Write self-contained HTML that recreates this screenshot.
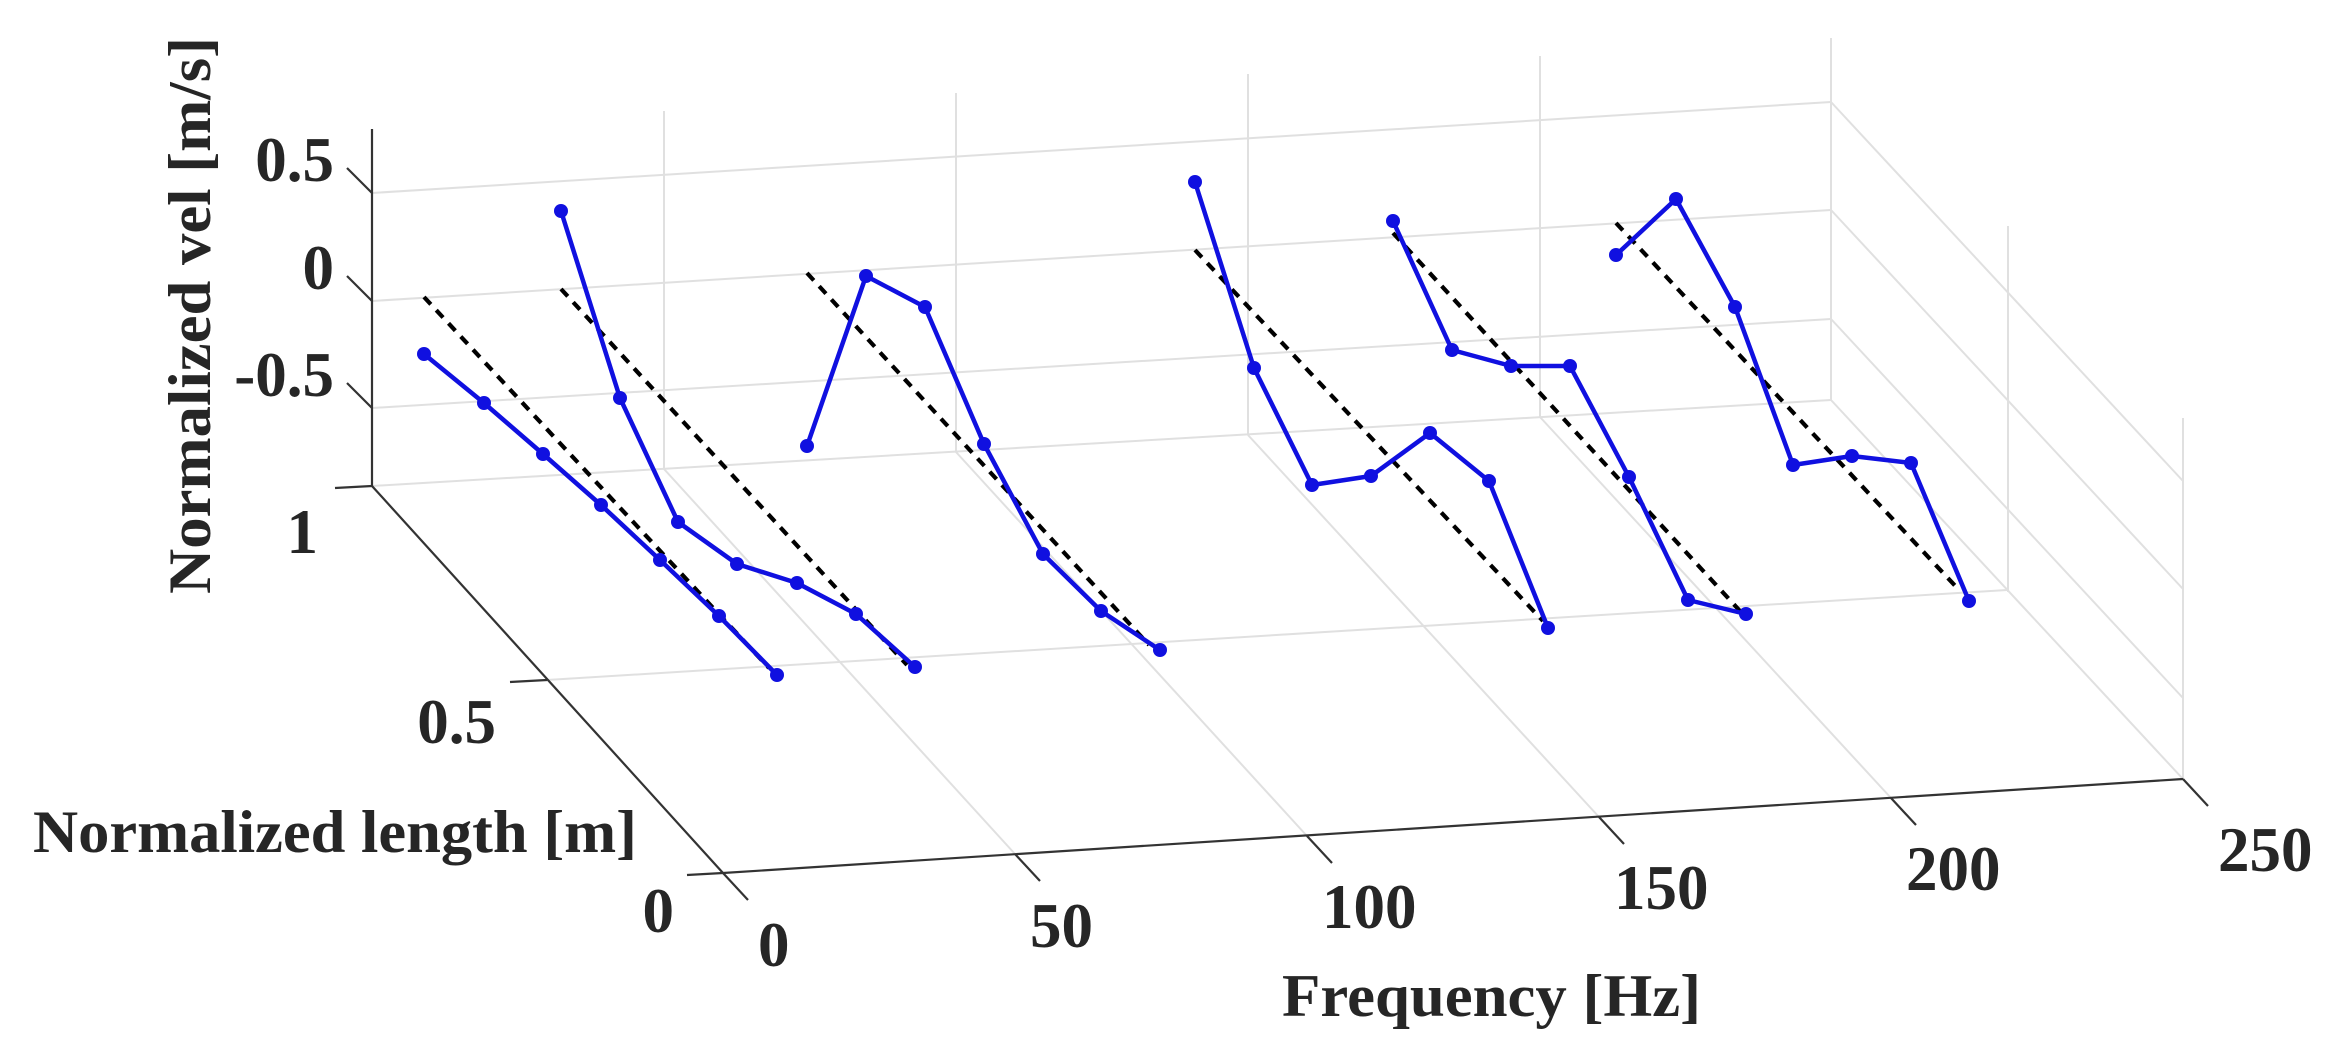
<!DOCTYPE html>
<html><head><meta charset="utf-8"><style>
html,body{margin:0;padding:0;background:#fff;}
svg{display:block;}
text{font-family:"Liberation Serif",serif;font-weight:bold;fill:#262626;}
</style></head><body>
<svg width="2339" height="1059" viewBox="0 0 2339 1059" xmlns="http://www.w3.org/2000/svg">
<g stroke="#e0e0e0" stroke-width="2" fill="none">
<line x1="664" y1="111" x2="664" y2="469"/>
<line x1="956" y1="93" x2="956" y2="452"/>
<line x1="1248" y1="74" x2="1248" y2="435"/>
<line x1="1540" y1="56" x2="1540" y2="417"/>
<line x1="1831" y1="38" x2="1831" y2="400"/>
<line x1="372" y1="193" x2="1831" y2="102"/>
<line x1="372" y1="301" x2="1831" y2="210"/>
<line x1="372" y1="408" x2="1831" y2="319"/>
<line x1="372" y1="486" x2="1831" y2="400"/>
<line x1="2008" y1="226" x2="2008" y2="592"/>
<line x1="2183" y1="418" x2="2183" y2="779"/>
<line x1="1831" y1="102" x2="2183" y2="481"/>
<line x1="1831" y1="210" x2="2183" y2="589"/>
<line x1="1831" y1="319" x2="2183" y2="698"/>
<line x1="1831" y1="400" x2="2183" y2="779"/>
<line x1="547" y1="680" x2="2007" y2="590"/>
<line x1="664" y1="469" x2="1015" y2="854"/>
<line x1="956" y1="452" x2="1307" y2="836"/>
<line x1="1248" y1="435" x2="1599" y2="817"/>
<line x1="1540" y1="417" x2="1891" y2="798"/>
</g>
<g stroke="#333" stroke-width="2.2" fill="none">
<line x1="372" y1="129" x2="372" y2="486"/>
<line x1="372" y1="486" x2="723" y2="873"/>
<line x1="723" y1="873" x2="2183" y2="779"/>
<line x1="347" y1="168" x2="372" y2="193"/>
<line x1="347" y1="276" x2="372" y2="301"/>
<line x1="347" y1="383" x2="372" y2="408"/>
<line x1="335" y1="488" x2="372" y2="486"/>
<line x1="510" y1="682" x2="547" y2="680"/>
<line x1="687" y1="875" x2="723" y2="873"/>
<line x1="723" y1="873" x2="748" y2="900"/>
<line x1="1015" y1="854" x2="1040" y2="881"/>
<line x1="1307" y1="836" x2="1332" y2="863"/>
<line x1="1599" y1="817" x2="1624" y2="844"/>
<line x1="1891" y1="798" x2="1916" y2="825"/>
<line x1="2183" y1="779" x2="2208" y2="806"/>
</g>
<g stroke="#000" stroke-width="4.2" stroke-dasharray="10 8" fill="none">
<line x1="424" y1="297" x2="769" y2="668"/>
<line x1="561" y1="289" x2="907" y2="665"/>
<line x1="807" y1="273" x2="1149" y2="645"/>
<line x1="1195" y1="250" x2="1543" y2="621"/>
<line x1="1393" y1="233" x2="1740" y2="611"/>
<line x1="1616" y1="223" x2="1960" y2="591"/>
</g>
<g stroke="#1010e0" stroke-width="4.5" fill="none" stroke-linejoin="round">
<polyline points="424,354 484,403 543,454 601,505 660,560 719,616 777,675"/>
<polyline points="561,211 620,398 678,522 737,564 797,583 856,614 915,667"/>
<polyline points="807,446 866,276 925,307 984,444 1043,554 1101,611 1160,650"/>
<polyline points="1195,182 1254,368 1312,485 1371,476 1430,433 1489,481 1548,628"/>
<polyline points="1393,221 1452,350 1511,366 1570,366 1629,477 1688,600 1746,614"/>
<polyline points="1616,255 1676,199 1735,307 1793,465 1852,456 1911,463 1969,601"/>
</g>
<g fill="#1010e0">
<circle cx="424" cy="354" r="7"/><circle cx="484" cy="403" r="7"/><circle cx="543" cy="454" r="7"/><circle cx="601" cy="505" r="7"/><circle cx="660" cy="560" r="7"/><circle cx="719" cy="616" r="7"/><circle cx="777" cy="675" r="7"/>
<circle cx="561" cy="211" r="7"/><circle cx="620" cy="398" r="7"/><circle cx="678" cy="522" r="7"/><circle cx="737" cy="564" r="7"/><circle cx="797" cy="583" r="7"/><circle cx="856" cy="614" r="7"/><circle cx="915" cy="667" r="7"/>
<circle cx="807" cy="446" r="7"/><circle cx="866" cy="276" r="7"/><circle cx="925" cy="307" r="7"/><circle cx="984" cy="444" r="7"/><circle cx="1043" cy="554" r="7"/><circle cx="1101" cy="611" r="7"/><circle cx="1160" cy="650" r="7"/>
<circle cx="1195" cy="182" r="7"/><circle cx="1254" cy="368" r="7"/><circle cx="1312" cy="485" r="7"/><circle cx="1371" cy="476" r="7"/><circle cx="1430" cy="433" r="7"/><circle cx="1489" cy="481" r="7"/><circle cx="1548" cy="628" r="7"/>
<circle cx="1393" cy="221" r="7"/><circle cx="1452" cy="350" r="7"/><circle cx="1511" cy="366" r="7"/><circle cx="1570" cy="366" r="7"/><circle cx="1629" cy="477" r="7"/><circle cx="1688" cy="600" r="7"/><circle cx="1746" cy="614" r="7"/>
<circle cx="1616" cy="255" r="7"/><circle cx="1676" cy="199" r="7"/><circle cx="1735" cy="307" r="7"/><circle cx="1793" cy="465" r="7"/><circle cx="1852" cy="456" r="7"/><circle cx="1911" cy="463" r="7"/><circle cx="1969" cy="601" r="7"/>
</g>
<g font-size="63">
<text x="334" y="181" text-anchor="end">0.5</text>
<text x="334" y="289" text-anchor="end">0</text>
<text x="334" y="396" text-anchor="end">-0.5</text>
<text x="318" y="553" text-anchor="end">1</text>
<text x="496" y="743" text-anchor="end">0.5</text>
<text x="674" y="932" text-anchor="end">0</text>
<text x="758" y="966">0</text>
<text x="1030" y="947">50</text>
<text x="1322" y="928">100</text>
<text x="1614" y="909">150</text>
<text x="1906" y="890">200</text>
<text x="2218" y="871">250</text>
</g>
<g font-size="60">
<text x="33" y="852" textLength="604" lengthAdjust="spacingAndGlyphs">Normalized length [m]</text>
<text x="1282" y="1016" textLength="419" lengthAdjust="spacingAndGlyphs">Frequency [Hz]</text>
<text transform="translate(210,594) rotate(-90)" x="0" y="0" textLength="557" lengthAdjust="spacingAndGlyphs">Normalized vel [m/s]</text>
</g>
</svg>
</body></html>
